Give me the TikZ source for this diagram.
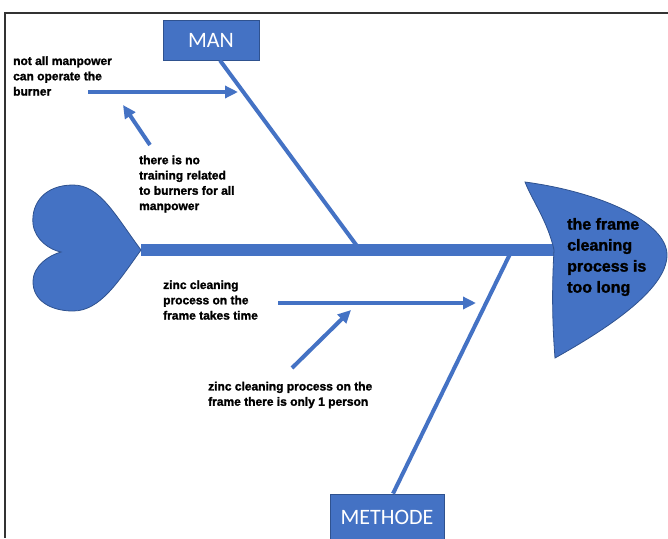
\documentclass[tikz,border=0pt]{standalone}
\usepackage{fontspec}
\setmainfont{Liberation Sans}[BoldFeatures={FakeBold=1.6}]
\newfontfamily\calib{Carlito}
\usetikzlibrary{arrows.meta}
\definecolor{fishblue}{HTML}{4472C4}
\definecolor{fishedge}{HTML}{2F528F}
\begin{document}
\begin{tikzpicture}[x=1pt,y=-1pt,
  causetext/.style={font=\fontsize{12}{15.3}\selectfont\bfseries, align=left, anchor=west, inner sep=0pt},
  catbox/.style={draw=fishedge, line width=0.8pt, fill=fishblue, text=white, font=\calib\fontsize{22}{26}\selectfont, inner sep=0pt},
  bone/.style={draw=fishblue, line width=4pt},
  causearrow/.style={draw=fishblue, line width=4pt, -{Triangle[length=13pt,width=12pt]}},
  fishpart/.style={fill=fishblue, draw=fishedge, line width=0.8pt}]
\useasboundingbox (0,0) rectangle (668,538);
\clip (0,0) rectangle (668,538);
% frame
\draw[line width=2pt, black!80] (668,13) -- (5,13) -- (5,538);
% key coordinates
\coordinate (heartTip) at (141,250);
\coordinate (headBack) at (554,250);
\coordinate (manJoin) at (357,246);
\coordinate (methJoin) at (510,254);
% spine
\draw[fishblue, line width=12pt] (heartTip) -- (headBack);
% tail (heart)
\path[fishpart] (heartTip) .. controls (115,215) and (100,185) .. (73,185)
  .. controls (45,185) and (31,203) .. (33,224)
  .. controls (35,240) and (50,250) .. (61,252)
  .. controls (50,255) and (33,265) .. (33,282)
  .. controls (33,300) and (50,311) .. (73,311)
  .. controls (100,311) and (118,282) .. (heartTip) -- cycle;
% head
\path[fishpart] (525,182) .. controls (600,192) and (667,222) .. (667,255)
  .. controls (667,290) and (605,330) .. (555,358)
  .. controls (552,320) and (552,285) .. (headBack)
  .. controls (548,222) and (532,200) .. (525,182) -- cycle;
\node[font=\fontsize{16}{21}\selectfont\bfseries, align=left, anchor=west, inner sep=0pt] (effect) at (567,257) {the frame\\cleaning\\process is\\too long};
% category boxes
\node[catbox, minimum width=96pt, minimum height=40pt] (man) at (211,40) {MAN};
\node[catbox, minimum width=114pt, minimum height=46pt] (methode) at (387,517) {METHODE};
% bones
\draw[bone] ([xshift=9pt]man.south) -- (manJoin);
\draw[bone] ([xshift=6pt]methode.north) -- (methJoin);
% causes
\node[causetext] (c1) at (13,76) {not all manpower\\can operate the\\burner};
\node[causetext] (c2) at (139,184) {there is no\\training related\\to burners for all\\manpower};
\node[causetext] (c3) at (163,300) {zinc cleaning\\process on the\\frame takes time};
\node[causetext] (c4) at (208,395) {zinc cleaning process on the\\frame there is only 1 person};
% cause arrows
\coordinate (a1s) at (88,92);   \coordinate (a1e) at (238,92);
\coordinate (a2s) at (150,145); \coordinate (a2e) at (123,105);
\coordinate (a3s) at (278,303); \coordinate (a3e) at (476,303);
\coordinate (a4s) at (292,368); \coordinate (a4e) at (351,310);
\draw[causearrow] (a1s) -- (a1e);
\draw[causearrow] (a2s) -- (a2e);
\draw[causearrow] (a3s) -- (a3e);
\draw[causearrow] (a4s) -- (a4e);
\end{tikzpicture}
\end{document}
